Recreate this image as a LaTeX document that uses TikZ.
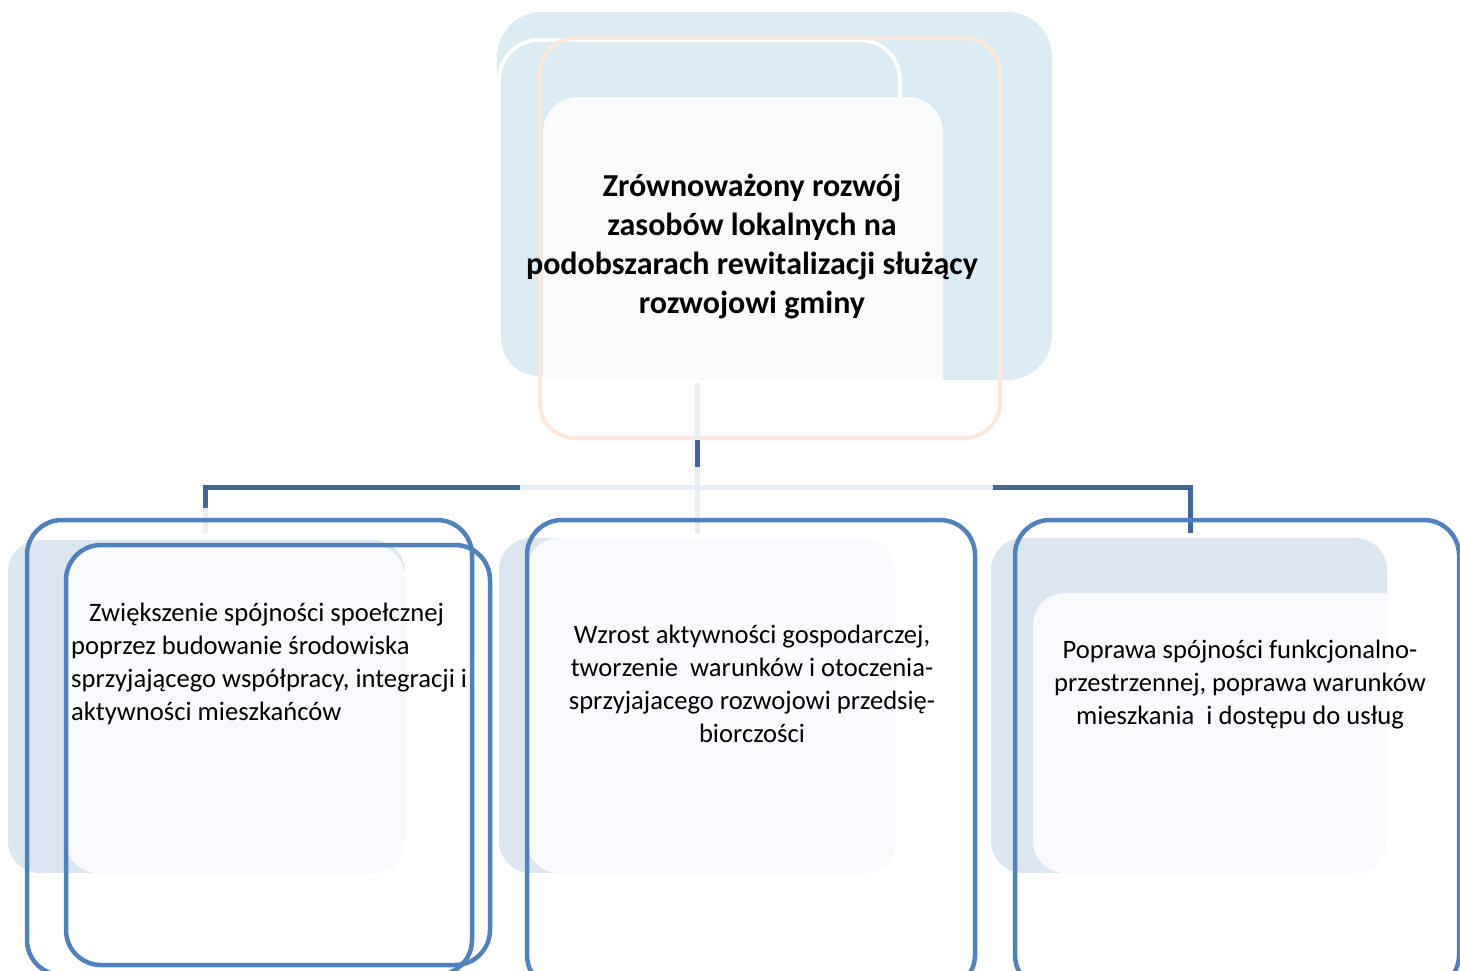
\documentclass[tikz,border=0pt]{standalone}
\usepackage{fontspec}
\setmainfont{Carlito}
\usepackage{tikz}
\usetikzlibrary{calc,positioning}
\definecolor{TopBlue}{HTML}{DAEBF3}
\definecolor{TopWhite}{HTML}{F9FBFC}
\definecolor{Peach}{HTML}{FBE8DA}
\definecolor{PanelBlue}{HTML}{DCE6F1}
\definecolor{PanelWhite}{HTML}{F9FAFD}
\definecolor{BoxBlue}{HTML}{4F81BD}
\definecolor{LinkDark}{HTML}{3F6799}
\definecolor{LinkFaint}{HTML}{E9EDF4}
\def\GoalFont{\fontsize{32}{39}\selectfont\bfseries}
\def\AimFont{\fontsize{26.6}{33}\selectfont}
\tikzset{
	goalbox/.style={align=center,font=\GoalFont,inner sep=0pt},
	aimbox/.style={font=\AimFont,inner sep=0pt},
	aimframe/.style={draw=BoxBlue,line width=4.5pt,rounded corners=35pt},
	linkdark/.style={draw=LinkDark,line width=5pt},
	linkfaint/.style={draw=LinkFaint,line width=5pt}
}

\begin{document}
\begin{tikzpicture}[x=1pt,y=-1pt]
			\useasboundingbox (0,0) rectangle (1460,970);
			% 
			% goal: layered back shapes
			\fill[TopBlue,rounded corners=45pt] (497,12) rectangle (1052,380);
			\draw[fill=TopBlue,draw=white,line width=4pt,rounded corners=40pt] (499,40) rectangle (900,378);
			\fill[TopWhite] (543,380) [rounded corners=35pt] -- (543,97) -- (943,97) [sharp corners] -- (943,380) -- cycle;
			\draw[Peach,line width=4pt,rounded corners=35pt] (540,38) rectangle (1000,438);
			\node[goalbox] (goal) at (752,246) {Zrównoważony rozwój\\ zasobów lokalnych na\\ podobszarach rewitalizacji służący\\ rozwojowi gminy};
			% 
			% connectors
			\coordinate (hub) at (697,383);
			\coordinate (hubm) at (697,487);
			\coordinate (hubd) at (697,533);
			\coordinate (bl) at (205,487);
			\coordinate (br) at (1190,487);
			\coordinate (bld) at (205,533);
			\coordinate (brd) at (1190,533);
			\draw[linkfaint] (hub) -- (hubd);
			\draw[linkdark] ($(hub)!0.55!(hubm)$) -- ($(hub)!0.81!(hubm)$);
			\draw[linkfaint] (bld) -- (bl) -- (br);
			\draw[linkdark,line join=miter] ($(bl)!0.45!(bld)$) -- (bl) -- ($(bl)!0.64!(hubm)$);
			\draw[linkdark,line join=miter] ($(hubm)!0.6!(br)$) -- (br) -- (brd);
			% 
			% aims: back panels
			\fill[PanelBlue,rounded corners=32pt] (8,540) rectangle (405,873);
			\fill[PanelWhite,rounded corners=32pt] (66,545) rectangle (405,873);
			\fill[PanelBlue,rounded corners=32pt] (499,538) rectangle (895,873);
			\fill[PanelWhite,rounded corners=32pt] (527,538) rectangle (895,873);
			\fill[PanelBlue,rounded corners=32pt] (991,538) rectangle (1387,873);
			\fill[PanelWhite] (1387,593) [rounded corners=32pt] -- (1033,593) -- (1033,873) -- (1387,873) [sharp corners] -- cycle;
			% 
			% aims: frames
			\draw[aimframe] (27,520) rectangle (472,975);
			\draw[aimframe] (66,545) rectangle (490,965);
			\draw[aimframe] (527,520) rectangle (975,990);
			\draw[aimframe] (1015,520) rectangle (1459,990);
			% 
			\node[aimbox,align=left,anchor=west] (aim1) at (71,664) {\hspace*{18pt}Zwiększenie spójności spoełcznej\\ poprzez budowanie środowiska\\ sprzyjającego współpracy, integracji i\\ aktywności mieszkańców};
			\node[aimbox,align=center] (aim2) at (752,684) {Wzrost aktywności gospodarczej,\\ tworzenie\ \ warunków i otoczenia-\\ sprzyjajacego rozwojowi przedsię-\\ biorczości};
			\node[aimbox,align=center] (aim3) at (1240,685) {Poprawa spójności funkcjonalno-\\ przestrzennej, poprawa warunków\\ mieszkania\ \ i dostępu do usług};
\end{tikzpicture}
\end{document}
